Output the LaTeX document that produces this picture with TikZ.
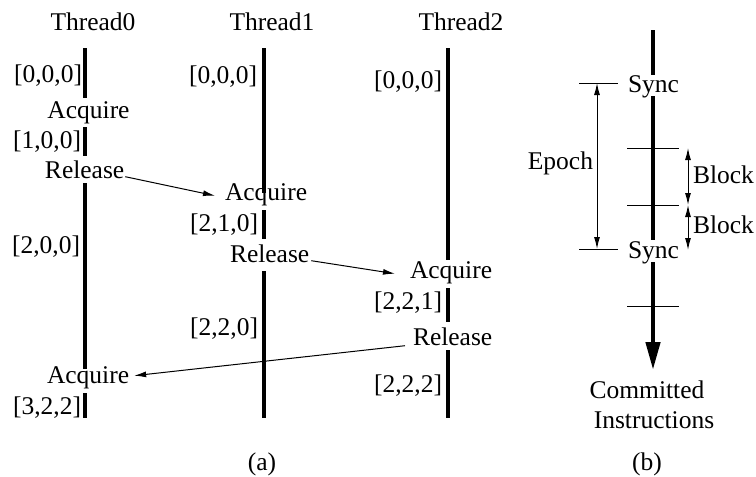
\documentclass[tikz,border=0pt]{standalone}
\usepackage{fontspec}
\setmainfont{Liberation Serif}
\usetikzlibrary{arrows.meta}
\begin{document}
\begin{tikzpicture}[x=1pt,y=-1pt,
  lbl/.style={inner sep=0pt,outer sep=0pt,font=\fontsize{25.5}{28}\selectfont,text height=0.68em,text depth=0.22em},
  thr/.style={line width=4pt},
  spine/.style={line width=4.5pt},
  thin/.style={line width=1pt},
  arr/.style={line width=1pt,-{Latex[length=12pt,width=6pt]}},
  darr/.style={line width=1pt,{Latex[length=12pt,width=6pt]}-{Latex[length=12pt,width=6pt]}}]
\useasboundingbox (0,0) rectangle (756,477);
% thread titles
\node[lbl,anchor=base] (t0) at (93,30) {Thread0};
\node[lbl,anchor=base] (t1) at (272,30) {Thread1};
\node[lbl,anchor=base] (t2) at (461,30) {Thread2};
% thread lines
\draw[thr] (85,48) -- (85,98);
\draw[thr] (85,127) -- (85,156);
\draw[thr] (85,183) -- (85,369);
\draw[thr] (85,393) -- (85,418);
\draw[thr] (264,48) -- (264,193);
\draw[thr] (264,210) -- (264,239);
\draw[thr] (264,271) -- (264,418);
\draw[thr] (448,48) -- (448,260);
\draw[thr] (448,288) -- (448,322);
\draw[thr] (448,350) -- (448,418);
% Thread0 labels
\node[lbl,anchor=base east] (v00) at (82,82) {[0,0,0]};
\node[lbl,anchor=base] (aq0) at (88.5,118) {Acquire};
\node[lbl,anchor=base east] (v01) at (81,148) {[1,0,0]};
\node[lbl,anchor=base west] (r0) at (45,178) {Release};
\node[lbl,anchor=base east] (v02) at (80,253) {[2,0,0]};
\node[lbl,anchor=base west] (a3) at (47,383) {Acquire};
\node[lbl,anchor=base east] (v03) at (81,414) {[3,2,2]};
% Thread1 labels
\node[lbl,anchor=base east] (v10) at (257,83) {[0,0,0]};
\node[lbl,anchor=base west] (a1) at (225,200) {Acquire};
\node[lbl,anchor=base east] (v11) at (258,231) {[2,1,0]};
\node[lbl,anchor=base west] (r1) at (230,262) {Release};
\node[lbl,anchor=base east] (v12) at (258,335) {[2,2,0]};
% Thread2 labels
\node[lbl,anchor=base east] (v20) at (442,88) {[0,0,0]};
\node[lbl,anchor=base west] (a2) at (410,278) {Acquire};
\node[lbl,anchor=base east] (v21) at (442,309) {[2,2,1]};
\node[lbl,anchor=base west] (r2) at (413,345) {Release};
\node[lbl,anchor=base east] (v22) at (442,392) {[2,2,2]};
% messages
\draw[arr] ([xshift=1pt,yshift=-1pt]r0.east) -- ([xshift=-10pt,yshift=2pt]a1.west);
\draw[arr] ([xshift=2pt,yshift=-1pt]r1.east) -- ([xshift=-15pt,yshift=2pt]a2.west);
\draw[arr] ([xshift=-8pt,yshift=-3pt]r2.west) -- ([xshift=5pt,yshift=5pt]a3.east);
\node[lbl,anchor=base] (capa) at (262,470) {(a)};
% part (b)
\draw[spine] (653,30) -- (653,75);
\draw[spine] (653,96) -- (653,240);
\coordinate (tipb) at (653,370);
\draw[spine,-{Triangle[width=14pt,length=28pt]}] (653,262) -- (tipb);
\node[lbl,anchor=base west] (s1) at (628,92) {Sync};
\node[lbl,anchor=base west] (s2) at (628,258) {Sync};
\coordinate (e1l) at (579,83); \coordinate (e1r) at (618,83);
\coordinate (e2l) at (579,249); \coordinate (e2r) at (618,249);
\draw[thin] (e1l) -- (e1r);
\draw[thin] (e2l) -- (e2r);
\coordinate (ea) at (597,83); \coordinate (eb) at (597,249);
\draw[darr] (ea) -- (eb);
\node[lbl,anchor=base east] (ep) at (593,169) {Epoch};
\coordinate (k1l) at (627,148); \coordinate (k1r) at (679,148);
\coordinate (k2l) at (627,205); \coordinate (k2r) at (679,205);
\coordinate (k3l) at (627,306); \coordinate (k3r) at (679,306);
\draw[thin] (k1l) -- (k1r);
\draw[thin] (k2l) -- (k2r);
\draw[thin] (k3l) -- (k3r);
\coordinate (b1) at (688,148); \coordinate (b2) at (688,205); \coordinate (b3) at (688,250);
\draw[darr] (b1) -- (b2);
\draw[darr] (b2) -- (b3);
\node[lbl,anchor=base west] (bl1) at (693,183) {Block};
\node[lbl,anchor=base west] (bl2) at (693,233) {Block};
\node[lbl,anchor=base] (ci1) at (647,398) {Committed};
\node[lbl,anchor=base] (ci2) at (654,428) {Instructions};
\node[lbl,anchor=base] (capb) at (647,470) {(b)};
\end{tikzpicture}
\end{document}
